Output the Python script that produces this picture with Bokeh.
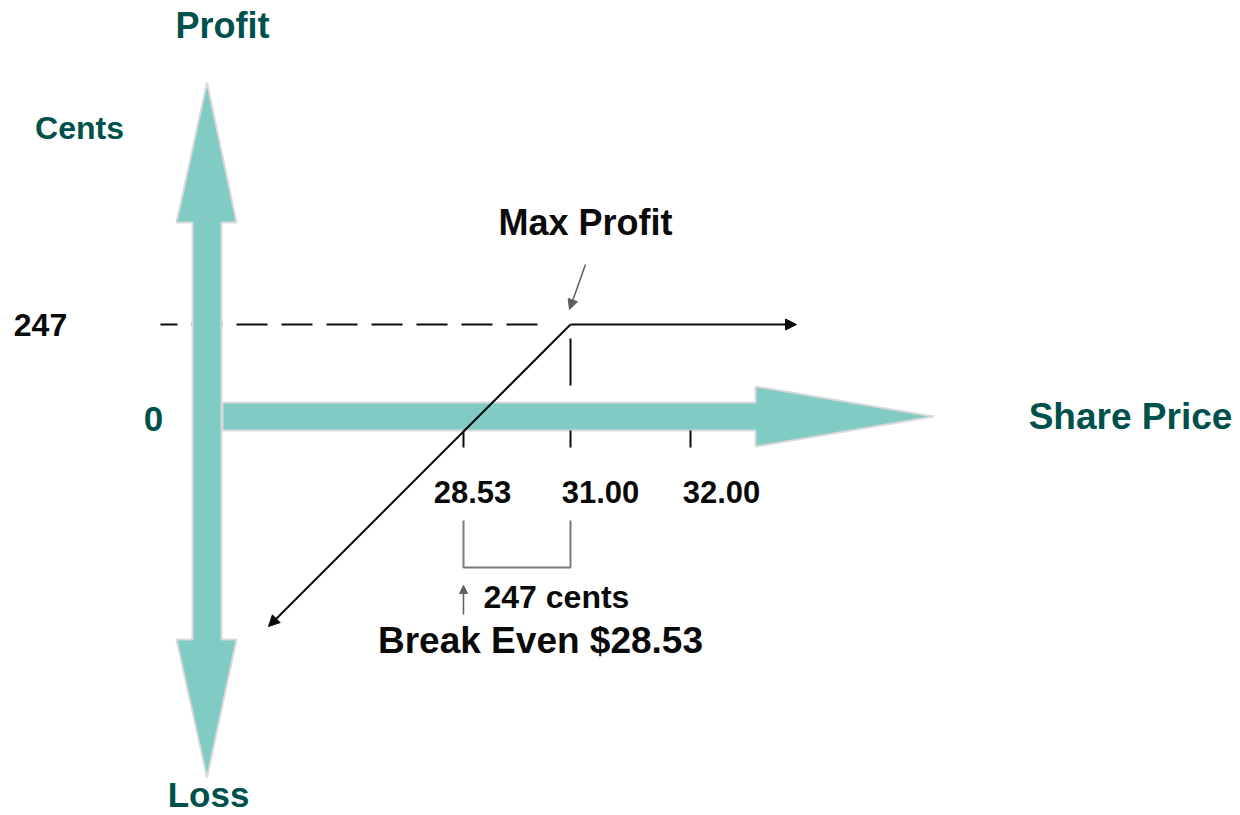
import numpy as np
from bokeh.plotting import figure
from bokeh.models import Range1d, Arrow, NormalHead
from bokeh.core.properties import value
from bokeh.embed import file_html
from bokeh.resources import INLINE

# ---------------- data ----------------
break_even = 28.53          # $ per share
strike = 31.00              # $ per share
max_profit_cents = 247      # cents
price_ticks = [28.53, 31.00, 32.00]
price_tick_labels = ["28.53", "31.00", "32.00"]
level_values = [247, 0]
level_labels = ["247", "0"]
title_profit = "Profit"
title_loss = "Loss"
title_cents = "Cents"
title_price = "Share Price"
note_max = "Max Profit"
note_gap = "247 cents"
note_be = "Break Even $28.53"

# ---------------- layout ----------------
W, H = 1240, 815
ORG = 0  # page offset of the plot
PX_PER_DOLLAR = 107 / 2.47
PX_PER_CENT = PX_PER_DOLLAR / 100.0
STRETCH = 2.77  # schematic spacing used beyond the strike

def diag_x(price):
    return price if price <= strike else strike + (price - strike) * STRETCH

x0 = break_even - (463 - ORG) / PX_PER_DOLLAR
ytop = (431 - ORG) / PX_PER_CENT

def X(px):
    return x0 + (px - ORG) / PX_PER_DOLLAR

def Y(py):
    return ytop - (py - ORG) / PX_PER_CENT

TEAL_FILL = "#80CBC4"
TEAL_EDGE = "#D9D9D9"
TEAL_TEXT = "#00514B"
BLACK = "#0a0a0a"
GREY = "#5f5f5f"
FONT = value("Liberation Sans")

p = figure(width=W, height=H, output_backend="svg", toolbar_location=None,
           x_range=Range1d(x0, x0 + W / PX_PER_DOLLAR),
           y_range=Range1d(ytop - H / PX_PER_CENT, ytop),
           x_axis_location=None, y_axis_location=None, min_border=0,
           background_fill_color="white", border_fill_color="white")
p.grid.visible = False
p.outline_line_color = None

# dashed guide lines (max profit level and strike)
p.line(x=[X(537), X(160)], y=[max_profit_cents, max_profit_cents],
       line_color=BLACK, line_width=2, line_dash="31 14")
p.line(x=[strike, strike], y=[Y(338), Y(402)],
       line_color=BLACK, line_width=2, line_dash="47 17")

# big teal axis arrows
vx = [206.5, 236, 221, 221, 236, 206.5, 176, 192, 192, 176]
vy = [82, 222, 222, 639, 639, 777, 639, 639, 222, 222]
p.patch(x=[X(v) for v in vx], y=[Y(v) for v in vy], fill_color=TEAL_FILL,
        line_color=TEAL_EDGE, line_width=2)
hx = [222, 755, 755, 933, 755, 755, 222]
hy = [402, 402, 386, 416, 446, 430, 430]
p.patch(x=[X(v) for v in hx], y=[Y(v) for v in hy], fill_color=TEAL_FILL,
        line_color=TEAL_EDGE, line_width=2)

# price ticks
tx = [diag_x(t) for t in price_ticks]
p.segment(x0=tx, y0=[Y(430)] * len(tx), x1=tx, y1=[Y(447)] * len(tx),
          line_color=BLACK, line_width=2)

# payoff: rising line through break-even up to strike, then flat
slope = max_profit_cents / (strike - break_even)
x_low = X(268)
y_low = max_profit_cents - (strike - x_low) * slope
p.add_layout(Arrow(x_start=strike, y_start=max_profit_cents, x_end=x_low, y_end=y_low,
                   line_color=BLACK, line_width=2,
                   end=NormalHead(size=11, fill_color=BLACK, line_color=BLACK, line_width=1)))
p.add_layout(Arrow(x_start=strike, y_start=max_profit_cents, x_end=X(796), y_end=max_profit_cents,
                   line_color=BLACK, line_width=2,
                   end=NormalHead(size=11, fill_color=BLACK, line_color=BLACK, line_width=1)))

# max profit pointer
p.add_layout(Arrow(x_start=X(585), y_start=Y(264), x_end=X(569), y_end=Y(309),
                   line_color=GREY, line_width=1.5,
                   end=NormalHead(size=10, fill_color=GREY, line_color=GREY, line_width=1)))

# bracket between break-even and strike
p.line(x=[break_even, break_even, strike, strike], y=[Y(520), Y(567), Y(567), Y(520)],
       line_color="#7a7a7a", line_width=2)
p.add_layout(Arrow(x_start=break_even, y_start=Y(614), x_end=break_even, y_end=Y(585),
                   line_color=GREY, line_width=1.5,
                   end=NormalHead(size=8, fill_color=GREY, line_color=GREY, line_width=1)))

def txt(x, y, s, size, color, align="center", xoff=0):
    p.text(x=x, y=y, text=s, text_font=FONT, text_font_style="bold",
           text_font_size=size, text_color=color, text_align=align,
           text_baseline="middle", x_offset=xoff)

# tick labels
txt(tx, [Y(491)] * len(tx), price_tick_labels, "31px", BLACK, xoff=[9, 30, 31])
# level labels
txt([X(40)], [max_profit_cents], [level_labels[0]], "32px", BLACK)
txt([X(153)], [Y(418)], [level_labels[1]], "35px", TEAL_TEXT)
# axis titles
txt([X(222)], [Y(25)], [title_profit], "36px", TEAL_TEXT)
txt([X(79)], [Y(127)], [title_cents], "32px", TEAL_TEXT)
txt([X(208)], [Y(794)], [title_loss], "35px", TEAL_TEXT)
txt([X(1130)], [Y(416)], [title_price], "37px", TEAL_TEXT)
# annotations
txt([X(585)], [Y(222)], [note_max], "36px", BLACK)
txt([X(483)], [Y(596)], [note_gap], "32px", BLACK, align="left")
txt([X(540)], [Y(640)], [note_be], "37px", BLACK)

open("out.html", "w").write(file_html(p, INLINE))
